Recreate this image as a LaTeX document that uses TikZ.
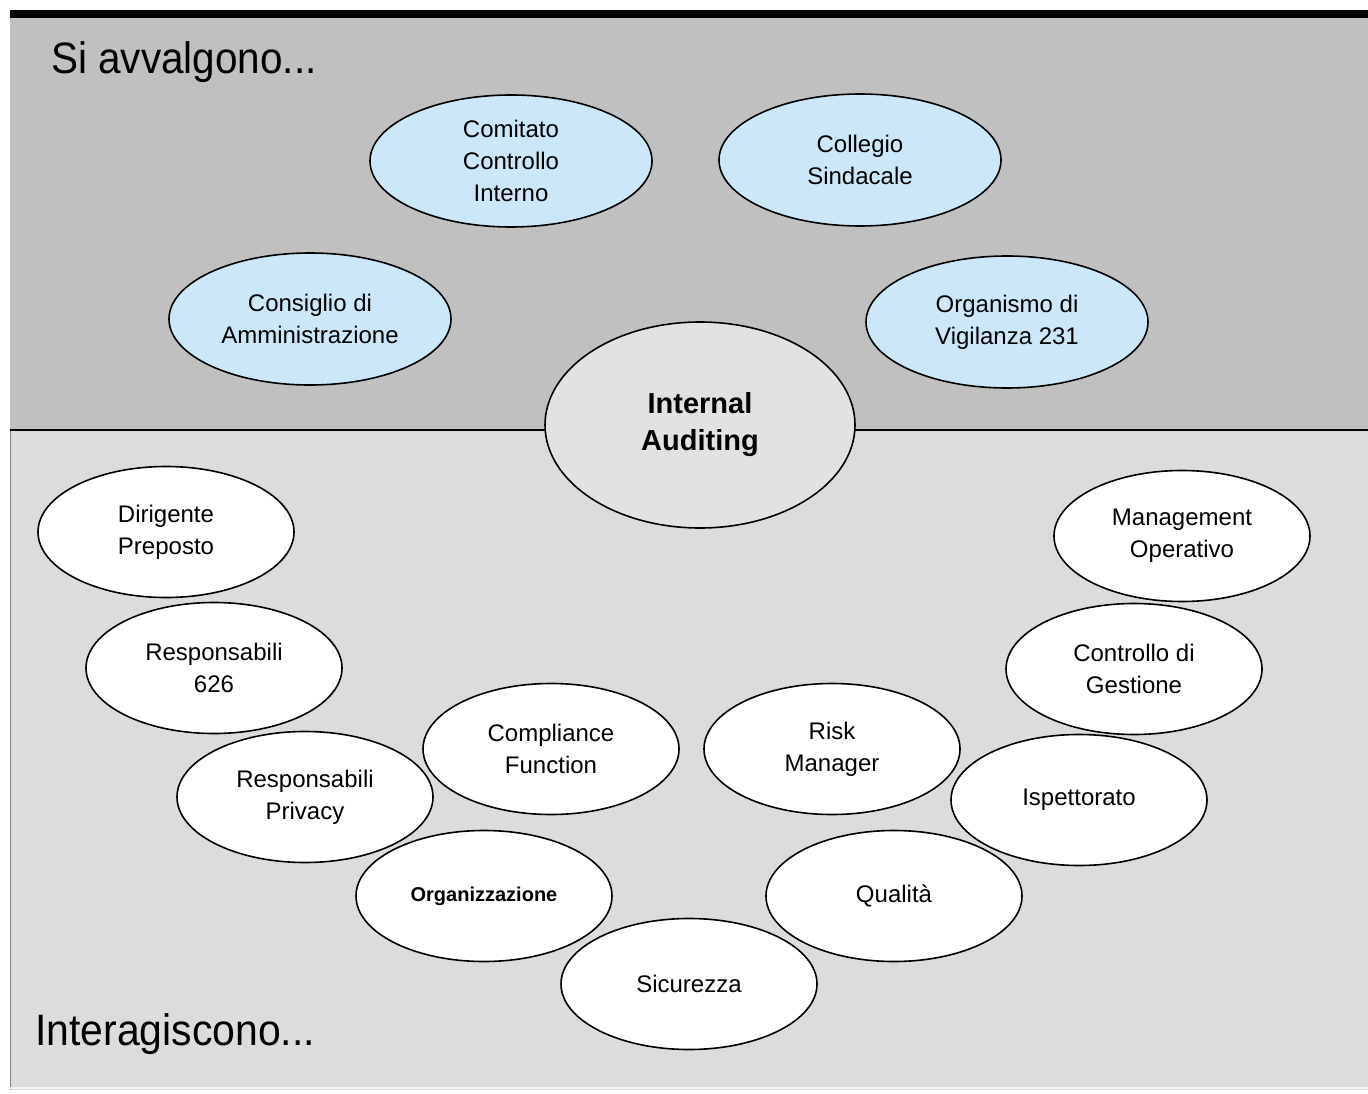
\documentclass[tikz,border=0pt]{standalone}
\usepackage{fontspec}
\setmainfont{Liberation Sans}
\usetikzlibrary{shapes.geometric}
\definecolor{upgray}{HTML}{C0C0C0}
\definecolor{lowgray}{HTML}{DCDCDC}
\definecolor{lblue}{HTML}{CCE8F8}
\definecolor{cgray}{HTML}{E2E2E2}
\tikzset{
  oval/.style={ellipse, draw=black, line width=1.6pt, inner sep=0pt, align=center,
    font=\fontsize{24}{32}\selectfont},
  blueoval/.style={oval, fill=lblue, minimum width=282pt, minimum height=132pt},
  whiteoval/.style={oval, fill=white, minimum width=256pt, minimum height=131pt},
  centeroval/.style={oval, fill=cgray, minimum width=310pt, minimum height=206pt,
    font=\fontsize{29}{37}\selectfont\bfseries},
  regionlabel/.style={inner sep=0pt, anchor=west, font=\fontsize{44}{50}\selectfont}
}
\begin{document}
\begin{tikzpicture}[x=1pt,y=-1pt]
\useasboundingbox (0,0) rectangle (1368,1094);
\fill[white] (0,0) rectangle (1368,1094);
% regions
\fill[black] (10,10) rectangle (1368,18);
\fill[upgray] (10,18) rectangle (1368,430);
\fill[lowgray] (10,430) rectangle (1368,1090);
\draw[gray, line width=1pt] (10.5,430) -- (10.5,1090);
\draw[white!90!gray, line width=1.5pt] (10,1088) -- (1368,1088);
\draw[black, line width=2pt] (10,430) -- (1368,430);
% region labels
\node[regionlabel] (si) at (51,62) {\scalebox{0.92}[1]{Si avvalgono...}};
\node[regionlabel] (inter) at (35,1034) {\scalebox{0.93}[1]{Interagiscono...}};
% upper ovals
\node[blueoval] (cci) at (511,161) {Comitato\\Controllo\\Interno};
\node[blueoval] (cs) at (860,160) {Collegio\\Sindacale};
\node[blueoval] (cda) at (310,319) {Consiglio di\\Amministrazione};
\node[blueoval] (odv) at (1007,322) {Organismo di\\Vigilanza 231};
% center
\node[centeroval] (ia) at (700,425) {Internal\\Auditing};
% lower ovals
\node[whiteoval] (dp) at (166,532) {Dirigente\\Preposto};
\node[whiteoval] (mo) at (1182,536) {Management\\Operativo};
\node[whiteoval] (r626) at (214,668) {Responsabili\\626};
\node[whiteoval] (cdg) at (1134,669) {Controllo di\\Gestione};
\node[whiteoval] (cf) at (551,749) {Compliance\\Function};
\node[whiteoval] (rm) at (832,749) {Risk\\Manager};
\node[whiteoval] (rp) at (305,797) {Responsabili\\Privacy};
\node[whiteoval] (isp) at (1079,800) {Ispettorato};
\node[whiteoval, font=\fontsize{20}{26}\selectfont\bfseries] (org) at (484,896) {Organizzazione};
\node[whiteoval] (qual) at (894,896) {Qualità};
\node[whiteoval] (sic) at (689,984) {Sicurezza};
\end{tikzpicture}
\end{document}
